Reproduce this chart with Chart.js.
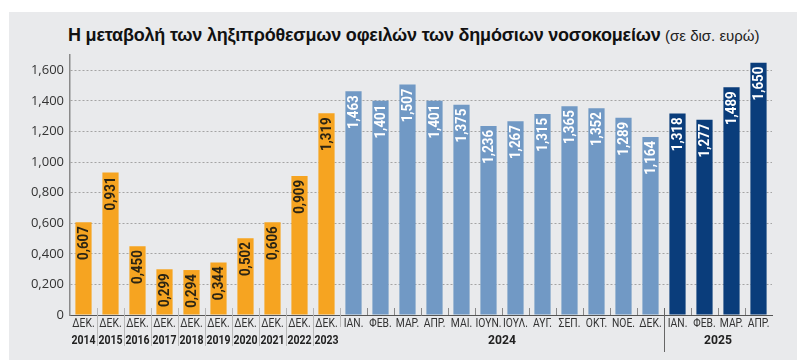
<!DOCTYPE html>
<html>
<head>
<meta charset="utf-8">
<script src="https://cdn.jsdelivr.net/npm/chart.js@4"></script>
<style>
body { margin: 0; background: #fff; }
#wrap { position: relative; width: 807px; height: 363px; }
#panel { position: absolute; left: 9px; top: 12px; width: 788px; height: 348px; background: #e9eaec; }
#title { position: absolute; left: 68px; top: 25px; font-family: "Liberation Sans", Arial, sans-serif; color: #111; white-space: nowrap; }
#title b { font-size: 18px; letter-spacing: -0.2px; }
#title span { font-size: 15px; color: #222; }
canvas { position: absolute; left: 0; top: 0; }
</style>
</head>
<body>
<div id="wrap">
  <div id="panel"></div>
  <div id="title"><b>Η μεταβολή των ληξιπρόθεσμων οφειλών των δημόσιων νοσοκομείων</b> <span>(σε δισ. ευρώ)</span></div>
  <canvas id="chart" width="807" height="363"></canvas>
</div>
<script>
// categories (top row of the axis)
let monthLabels = ["ΔΕΚ.", "ΔΕΚ.", "ΔΕΚ.", "ΔΕΚ.", "ΔΕΚ.", "ΔΕΚ.", "ΔΕΚ.", "ΔΕΚ.", "ΔΕΚ.", "ΔΕΚ.",
  "ΙΑΝ.", "ΦΕΒ.", "ΜΑΡ.", "ΑΠΡ.", "ΜΑΙ.", "ΙΟΥΝ.", "ΙΟΥΛ.", "ΑΥΓ.", "ΣΕΠ.", "ΟΚΤ.", "ΝΟΕ.", "ΔΕΚ.",
  "ΙΑΝ.", "ΦΕΒ.", "ΜΑΡ.", "ΑΠΡ."];
// year row: one entry per bar group
let yearLabels = ["2014", "2015", "2016", "2017", "2018", "2019", "2020", "2021", "2022", "2023", "2024", "2025"];
let yearStart = [0, 1, 2, 3, 4, 5, 6, 7, 8, 9, 10, 22];
let yearEnd = [0, 1, 2, 3, 4, 5, 6, 7, 8, 9, 21, 25];

// overdue debts, in million euro (shown as bn with 3 decimals)
let debtValues = [607, 931, 450, 299, 294, 344, 502, 606, 909, 1319,
  1463, 1401, 1507, 1401, 1375, 1236, 1267, 1315, 1365, 1352, 1289, 1164,
  1318, 1277, 1489, 1650];

let yTicks = [0, 200, 400, 600, 800, 1000, 1200, 1400, 1600];

let ORANGE = "#f6a421";
let LIGHT = "#7199c5";
let DARK = "#0a3d7b";

function fmt(v) {
  if (v === 0) return "0";
  return (v / 1000).toFixed(3).replace(".", ",");
}

let barColors = [];
for (let i = 0; i < debtValues.length; i++) {
  if (i < 10) barColors.push(ORANGE);
  else if (i < 22) barColors.push(LIGHT);
  else barColors.push(DARK);
}

// narrow text: squeeze along the writing direction
function narrowText(ctx, txt, sx) {
  ctx.save();
  ctx.scale(sx, 1);
  ctx.fillText(txt, 0, 0);
  ctx.restore();
}

let extras = {
  id: "extras",
  afterDraw(chart) {
    let ctx = chart.ctx;
    let x = chart.scales.x;
    let y = chart.scales.y;
    let meta = chart.getDatasetMeta(0);
    let axisY = y.getPixelForValue(0);

    // values inside bars
    ctx.save();
    ctx.font = "bold 14px Roboto, sans-serif";
    ctx.textAlign = "right";
    ctx.textBaseline = "middle";
    meta.data.forEach((bar, i) => {
      ctx.save();
      ctx.translate(bar.x + 1, bar.y + 4);
      ctx.rotate(-Math.PI / 2);
      ctx.fillStyle = i < 10 ? "#2b2414" : "#ffffff";
      narrowText(ctx, fmt(debtValues[i]), 0.95);
      ctx.restore();
    });
    ctx.restore();

    // separators
    ctx.save();
    ctx.lineWidth = 1;
    for (let i = 0; i < debtValues.length - 1; i++) {
      let sx = Math.round((x.getPixelForValue(i) + x.getPixelForValue(i + 1)) / 2) + 0.5;
      ctx.beginPath();
      if (i < 9) {
        ctx.strokeStyle = "#b8b8b8";
        ctx.moveTo(sx, axisY - 7);
        ctx.lineTo(sx, axisY + 31);
      } else if (i === 9) {
        ctx.strokeStyle = "#b8b8b8";
        ctx.moveTo(sx, axisY - 7);
        ctx.lineTo(sx, axisY + 12);
      } else if (i === 21) {
        ctx.strokeStyle = "#666";
        ctx.moveTo(sx, axisY - 7);
        ctx.lineTo(sx, axisY + 37);
      } else {
        ctx.strokeStyle = "#888";
        ctx.moveTo(sx, axisY - 7);
        ctx.lineTo(sx, axisY);
      }
      ctx.stroke();
    }
    ctx.restore();

    // month row
    ctx.save();
    ctx.font = "12px Roboto, sans-serif";
    ctx.fillStyle = "#333";
    ctx.textAlign = "center";
    ctx.textBaseline = "middle";
    for (let i = 0; i < monthLabels.length; i++) {
      ctx.save();
      ctx.translate(x.getPixelForValue(i), axisY + 9);
      narrowText(ctx, monthLabels[i], 0.86);
      ctx.restore();
    }
    ctx.restore();

    // year row
    ctx.save();
    ctx.font = "bold 13.5px Roboto, sans-serif";
    ctx.fillStyle = "#222";
    ctx.textAlign = "center";
    ctx.textBaseline = "middle";
    for (let k = 0; k < yearLabels.length; k++) {
      let cx = (x.getPixelForValue(yearStart[k]) + x.getPixelForValue(yearEnd[k])) / 2;
      ctx.save();
      ctx.translate(cx, axisY + 26);
      narrowText(ctx, yearLabels[k], k < 10 ? 0.78 : 0.9);
      ctx.restore();
    }
    ctx.restore();
  }
};

let ctx1 = document.getElementById("chart").getContext("2d");
let myChart = new Chart(ctx1, {
  type: "bar",
  data: {
    labels: monthLabels,
    datasets: [{
      data: debtValues,
      backgroundColor: barColors,
      barPercentage: 0.6,
      categoryPercentage: 1
    }]
  },
  options: {
    responsive: false,
    animation: false,
    layout: { padding: { top: 55, right: 35, left: 0, bottom: 0 } },
    plugins: { legend: { display: false }, tooltip: { enabled: false } },
    scales: {
      x: {
        afterFit(s) { s.height = 48; },
        grid: { display: false },
        border: { color: "#555", width: 1 },
        ticks: { display: false }
      },
      y: {
        min: 0,
        max: 1700,
        afterFit(s) { s.width = 70; },
        afterBuildTicks(s) { s.ticks = yTicks.map(v => ({ value: v })); },
        grid: { color: "#a4a4a4", lineWidth: 1, drawTicks: false },
        border: { color: "#8a8a8a", width: 1.5, dash: [2, 2] },
        ticks: {
          padding: 6,
          color: "#333",
          font: { family: "'Open Sans', sans-serif", size: 13 },
          callback: v => fmt(v)
        }
      }
    }
  },
  plugins: [extras]
});
</script>
</body>
</html>
